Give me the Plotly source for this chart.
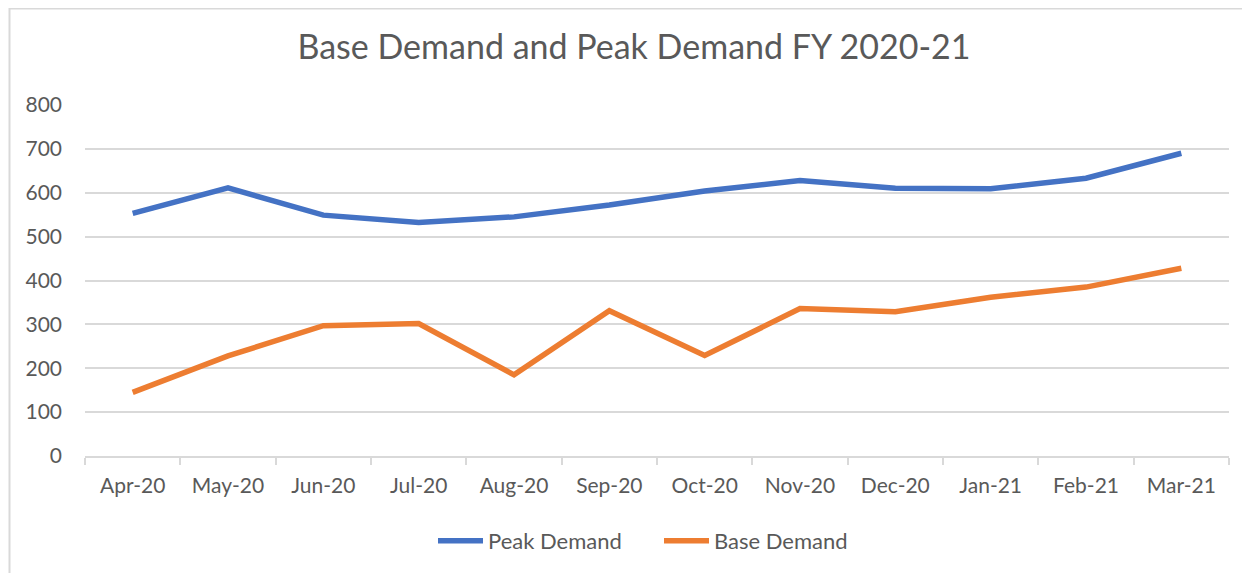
import plotly.graph_objects as go

months = ["Apr-20", "May-20", "Jun-20", "Jul-20", "Aug-20", "Sep-20",
          "Oct-20", "Nov-20", "Dec-20", "Jan-21", "Feb-21", "Mar-21"]
peak_demand = [553, 611, 549, 532, 545, 572, 604, 628, 610, 609, 633, 690]
base_demand = [145, 228, 297, 302, 185, 331, 229, 336, 329, 362, 385, 428]
y_ticks = [0, 100, 200, 300, 400, 500, 600, 700, 800]

# page body adds an 8px offset; figure sized to fit the window
OFF = 8
W, H = 1250 - OFF, 573 - OFF
L, T = 85 - OFF, 105 - OFF
pw, ph = 1144, 351
R, B = W - L - pw, H - T - ph

fig = go.Figure()
fig.add_trace(go.Scatter(x=months, y=peak_demand, name="Peak Demand", mode="lines",
                         line=dict(color="#4472C4", width=5.5)))
fig.add_trace(go.Scatter(x=months, y=base_demand, name="Base Demand", mode="lines",
                         line=dict(color="#ED7D31", width=5.5)))

def px_x(p):
    return (p - OFF - L) / pw

def px_y(p):
    return (T + ph - (p - OFF)) / ph

fig.update_layout(
    width=W, height=H,
    margin=dict(l=L, r=R, t=T, b=B, autoexpand=False),
    paper_bgcolor="white", plot_bgcolor="white",
    font=dict(family="Lato, Carlito, sans-serif", color="#595959", size=21),
    title=dict(text="Base Demand and Peak Demand FY 2020-21",
               x=(634 - OFF) / W, xanchor="center", xref="container",
               y=1 - (47 - OFF) / H, yref="container", yanchor="middle",
               font=dict(size=34, color="#595959")),
    showlegend=True,
    legend=dict(orientation="h", x=(659 - OFF) / W, xanchor="center", xref="container",
                y=1 - (541 - OFF) / H, yref="container", yanchor="middle",
                font=dict(size=22, color="#595959"), traceorder="normal",
                itemwidth=45, entrywidth=166, entrywidthmode="pixels"),
    xaxis=dict(type="category", categoryorder="array", categoryarray=months,
               range=[-0.5, len(months) - 0.5], showgrid=False,
               showline=True, linecolor="#d9d9d9", linewidth=2,
               ticks="outside", tickson="boundaries", ticklen=7, tickcolor="#d9d9d9",
               tickwidth=2, ticklabelstandoff=10, zeroline=False, fixedrange=True,
               automargin=False),
    yaxis=dict(range=[0, 800], tickvals=y_ticks, showgrid=True, gridcolor="#d9d9d9",
               gridwidth=2, zeroline=False, showline=False, ticks="",
               ticklabelstandoff=22, fixedrange=True, automargin=False),
    shapes=[dict(type="rect", xref="paper", yref="paper",
                 x0=px_x(9.5), x1=px_x(1270), y0=px_y(590), y1=px_y(8.5),
                 line=dict(color="#d9d9d9", width=2), fillcolor="rgba(0,0,0,0)",
                 layer="below")],
)

fig.write_html("out.html")
